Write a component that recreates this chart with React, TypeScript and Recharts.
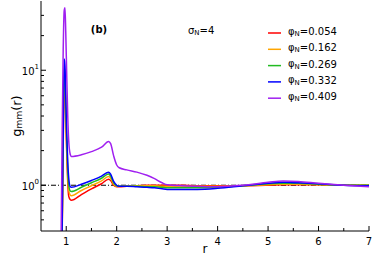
import { LineChart, Line, XAxis, YAxis, ReferenceLine } from "recharts";

// r grid shared by every curve
const rValues = [
  0.85, 0.9, 0.92, 0.94, 0.96, 0.975, 0.99, 1.01, 1.03, 1.05, 1.08, 1.1, 1.3, 1.5, 1.7, 1.84, 1.88, 1.94,
  2.0, 2.05, 2.2, 2.4, 2.6, 2.75, 2.9, 3.0, 3.3, 3.6, 4.0, 4.5, 5.0, 5.3, 5.6, 6.0, 6.5, 7.0,
];

const g054 = [
  0.05, 0.1, 0.4, 2.2, 8, 7.4, 4.1, 1.9, 1.05, 0.8, 0.75, 0.74, 0.83, 0.93, 1.03, 1.13, 1.1, 1.0,
  0.97, 0.97, 0.98, 0.99, 1.0, 1.0, 1.0, 1.0, 1.0, 0.99, 0.99, 0.99, 1.0, 1.01, 1.01, 1.01, 1.0, 1.0,
];
const g162 = [
  0.05, 0.1, 0.42, 2.5, 9, 8.3, 4.6, 2.1, 1.2, 0.9, 0.82, 0.81, 0.9, 0.99, 1.09, 1.19, 1.15, 1.02,
  0.98, 0.98, 0.99, 0.99, 0.99, 0.99, 0.98, 0.98, 0.98, 0.98, 0.98, 0.99, 1.01, 1.02, 1.02, 1.01, 1.0, 1.0,
];
const g269 = [
  0.05, 0.1, 0.45, 2.8, 10.5, 9.5, 5.2, 2.4, 1.35, 1.0, 0.89, 0.88, 0.96, 1.05, 1.15, 1.25, 1.2, 1.05,
  0.99, 0.98, 0.98, 0.98, 0.97, 0.97, 0.96, 0.95, 0.95, 0.95, 0.96, 0.99, 1.03, 1.04, 1.04, 1.02, 1.0, 1.0,
];
const g332 = [
  0.05, 0.1, 0.5, 3, 12.5, 11, 6, 2.8, 1.6, 1.15, 0.97, 0.96, 1.02, 1.1, 1.2, 1.3, 1.25, 1.08,
  1.0, 0.98, 0.98, 0.97, 0.96, 0.95, 0.93, 0.92, 0.92, 0.92, 0.94, 0.99, 1.04, 1.06, 1.05, 1.03, 1.0, 0.99,
];
const g409 = [
  0.05, 0.4, 3, 15, 33, 35, 22, 9, 4, 2.4, 1.85, 1.78, 1.84, 1.96, 2.14, 2.4, 2.3, 1.8,
  1.5, 1.42, 1.36, 1.3, 1.22, 1.14, 1.05, 1.01, 0.99, 0.98, 0.97, 1.0, 1.06, 1.09, 1.08, 1.04, 1.0, 0.97,
];

const seriesKeys = ["p054", "p162", "p269", "p332", "p409"];
const seriesLabels = ["0.054", "0.162", "0.269", "0.332", "0.409"];
const seriesColors = ["#ff0000", "#ffa500", "#22bb22", "#0000ff", "#a020f0"];

const xMajorTicks = [1, 2, 3, 4, 5, 6, 7];
const xMinorTicks = [1.5, 2.5, 3.5, 4.5, 5.5, 6.5];
const yMajorTicks = [1, 10];
const yMinorTicks = [0.5, 0.6, 0.7, 0.8, 0.9, 2, 3, 4, 5, 6, 7, 8, 9, 20, 30];

const data = rValues.map((r, i) => ({
  r,
  p054: g054[i],
  p162: g162[i],
  p269: g269[i],
  p332: g332[i],
  p409: g409[i],
}));

const FONT = "DejaVu Sans, sans-serif";

function BottomTick(props: any) {
  const { x, y, payload } = props;
  const major = xMajorTicks.includes(payload.value);
  return (
    <g>
      <line x1={x} x2={x} y1={y} y2={y - (major ? 5 : 3)} stroke="#000" />
      {major && (
        <text x={x} y={y + 10} textAnchor="middle" dominantBaseline="central" fontSize={10} fontFamily={FONT} fill="#000">
          {payload.value}
        </text>
      )}
    </g>
  );
}

function TopTick(props: any) {
  const { x, y, payload } = props;
  const major = xMajorTicks.includes(payload.value);
  return <line x1={x} x2={x} y1={y} y2={y + (major ? 5 : 3)} stroke="#000" />;
}

function LeftTick(props: any) {
  const { x, y, payload } = props;
  const major = yMajorTicks.includes(payload.value);
  return (
    <g>
      <line x1={x} x2={x + (major ? 5 : 3)} y1={y} y2={y} stroke="#000" />
      {major && (
        <text x={x - 2} y={y + 1.5} textAnchor="end" dominantBaseline="central" fontSize={10} fontFamily={FONT} fill="#000">
          10
          <tspan dy={-5} fontSize={7}>
            {Math.round(Math.log10(payload.value))}
          </tspan>
        </text>
      )}
    </g>
  );
}

function RightTick(props: any) {
  const { x, y, payload } = props;
  const major = yMajorTicks.includes(payload.value);
  return <line x1={x} x2={x - (major ? 5 : 3)} y1={y} y2={y} stroke="#000" />;
}

export default function App() {
  const xTicks = [...xMajorTicks, ...xMinorTicks].sort((a, b) => a - b);
  const yTicks = [...yMajorTicks, ...yMinorTicks].sort((a, b) => a - b);
  return (
    <div style={{ position: "absolute", left: 0, top: 0, width: 374, height: 255, background: "#fff" }}>
      <LineChart width={374} height={255} data={data} margin={{ top: 1, right: 5, bottom: 0, left: 0 }}>
        <XAxis
          dataKey="r"
          type="number"
          domain={[0.5, 7]}
          allowDataOverflow
          ticks={xTicks}
          interval={0}
          height={24}
          tickSize={0}
          tickMargin={0}
          tickLine={false}
          tick={BottomTick}
          axisLine={{ stroke: "#000" }}
        />
        <XAxis
          xAxisId="top"
          orientation="top"
          type="number"
          dataKey="r"
          domain={[0.5, 7]}
          allowDataOverflow
          ticks={xTicks}
          interval={0}
          height={0}
          tickSize={0}
          tickMargin={0}
          tickLine={false}
          tick={TopTick}
          axisLine={{ stroke: "#000" }}
        />
        <YAxis
          type="number"
          scale="log"
          domain={[0.4, 40]}
          allowDataOverflow
          ticks={yTicks}
          interval={0}
          width={41}
          tickSize={0}
          tickMargin={0}
          tickLine={false}
          tick={LeftTick}
          axisLine={{ stroke: "#000" }}
        />
        <YAxis
          yAxisId="right"
          orientation="right"
          type="number"
          scale="log"
          domain={[0.4, 40]}
          allowDataOverflow
          ticks={yTicks}
          interval={0}
          width={0}
          tickSize={0}
          tickMargin={0}
          tickLine={false}
          tick={RightTick}
          axisLine={{ stroke: "#000" }}
        />
        <ReferenceLine y={1} stroke="#000" strokeWidth={1} strokeDasharray="5 2 1 2" />
        {seriesKeys.map((k, i) => (
          <Line
            key={k}
            dataKey={k}
            type="monotone"
            stroke={seriesColors[i]}
            strokeWidth={1.5}
            dot={false}
            isAnimationActive={false}
          />
        ))}
      </LineChart>
      <svg
        width={374}
        height={255}
        style={{ position: "absolute", left: 0, top: 0, pointerEvents: "none" }}
        fontFamily={FONT}
      >
        <text x={16} y={116} transform="rotate(-90 16 116)" textAnchor="middle" dominantBaseline="central" fontSize={13}>
          g<tspan dy={3} fontSize={9}>mm</tspan>
          <tspan dy={-3}>(r)</tspan>
        </text>
        <text x={205} y={249} textAnchor="middle" dominantBaseline="central" fontSize={12}>
          r
        </text>
        <text x={99} y={29.5} textAnchor="middle" dominantBaseline="central" fontSize={10} fontWeight="bold">
          (b)
        </text>
        <text x={188} y={30} dominantBaseline="central" fontSize={10}>
          σ<tspan dy={3} fontSize={7}>N</tspan>
          <tspan dy={-3}>=4</tspan>
        </text>
        {seriesLabels.map((lab, i) => {
          const cy = 31 + i * 16.3;
          return (
            <g key={lab}>
              <line x1={268} x2={281} y1={cy + 2} y2={cy + 2} stroke={seriesColors[i]} strokeWidth={1.5} />
              <text x={288} y={cy} dominantBaseline="central" fontSize={10}>
                φ<tspan dy={3} fontSize={7}>N</tspan>
                <tspan dy={-3}>={lab}</tspan>
              </text>
            </g>
          );
        })}
      </svg>
    </div>
  );
}
